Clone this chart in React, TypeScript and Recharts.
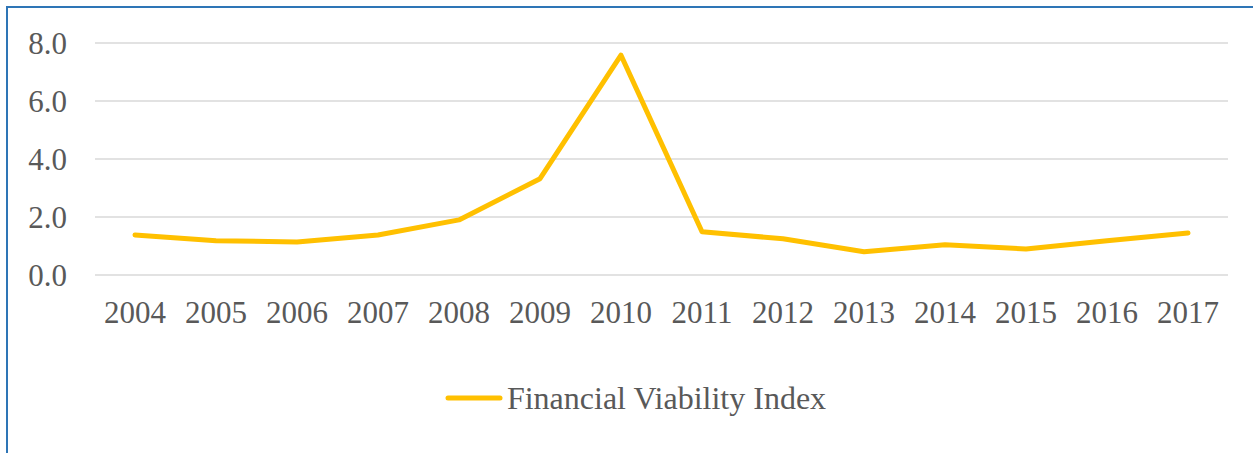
import React from "react";
import { LineChart, Line, XAxis, YAxis, CartesianGrid, Legend } from "recharts";

// Financial Viability Index, 2004–2017
const years = ["2004", "2005", "2006", "2007", "2008", "2009", "2010", "2011", "2012", "2013", "2014", "2015", "2016", "2017"];
const fviValues = [1.38, 1.18, 1.14, 1.38, 1.9, 3.32, 7.58, 1.49, 1.25, 0.8, 1.04, 0.9, 1.18, 1.45];
const yTicks = [0, 2, 4, 6, 8];

const data = years.map((year, i) => ({ year, fvi: fviValues[i] }));

const FONT = "Times New Roman, Liberation Serif, serif";
const GOLD = "#FFC000";
const TEXT = "#595959";

function LegendContent() {
  return (
    <div
      style={{
        display: "flex",
        justifyContent: "center",
        alignItems: "center",
        fontFamily: FONT,
        height: 40,
        paddingLeft: 18,
      }}
    >
      <svg width={58} height={10} style={{ marginRight: 4 }}>
        <line x1={3} y1={5} x2={55} y2={5} stroke={GOLD} strokeWidth={5} strokeLinecap="round" />
      </svg>
      <span style={{ fontSize: 32, color: TEXT, lineHeight: "40px" }}>Financial Viability Index</span>
    </div>
  );
}

export default function App() {
  return (
    <div
      style={{
        position: "fixed",
        left: 0,
        top: 0,
        width: 1253,
        height: 453,
        background: "#fff",
        overflow: "hidden",
        fontFamily: FONT,
      }}
    >
      <div
        style={{
          position: "absolute",
          left: 6,
          top: 6,
          width: 1270,
          height: 470,
          border: "2px solid #2E75B6",
          boxSizing: "border-box",
        }}
      />
      <LineChart
        width={1253}
        height={453}
        data={data}
        margin={{ top: 43, right: 25, bottom: 88, left: 0 }}
        style={{ position: "absolute", left: 0, top: 0, fontFamily: FONT }}
      >
        <CartesianGrid vertical={false} stroke="#d9d9d9" strokeWidth={1.5} />
        <XAxis
          dataKey="year"
          axisLine={false}
          tickLine={false}
          tickSize={0}
          tickMargin={26}
          height={50}
          padding={{ left: 40, right: 40 }}
          tick={{ fontSize: 31, fill: TEXT, fontFamily: FONT }}
          interval={0}
        />
        <YAxis
          domain={[0, 8]}
          ticks={yTicks}
          width={95}
          axisLine={false}
          tickLine={false}
          tickSize={0}
          tickMargin={28}
          tickFormatter={(v: number) => v.toFixed(1)}
          tick={{ fontSize: 31, fill: TEXT, fontFamily: FONT }}
        />
        <Legend
          layout="vertical"
          align="center"
          verticalAlign="bottom"
          content={<LegendContent />}
          wrapperStyle={{ position: "absolute", top: 378, left: 0, width: 1253 }}
        />
        <Line
          type="linear"
          dataKey="fvi"
          stroke={GOLD}
          strokeWidth={5}
          strokeLinecap="round"
          strokeLinejoin="round"
          dot={false}
          isAnimationActive={false}
        />
      </LineChart>
    </div>
  );
}
